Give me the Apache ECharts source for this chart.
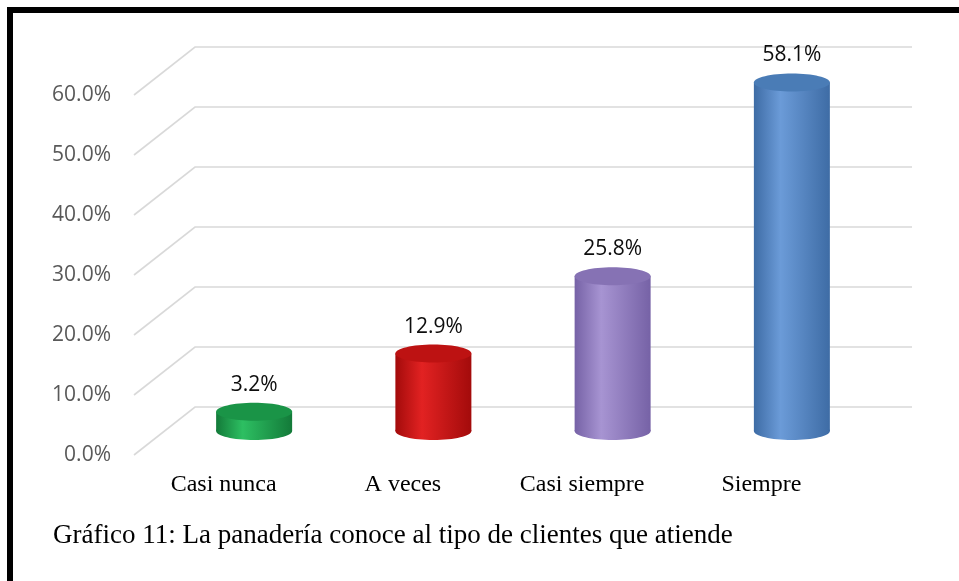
<!DOCTYPE html>
<html>
<head>
<meta charset="utf-8">
<script src="https://cdn.jsdelivr.net/npm/echarts@6/dist/echarts.min.js"></script>
<style>
html,body{margin:0;padding:0;background:#fff;}
#chart{width:959px;height:581px;}
</style>
</head>
<body>
<div id="chart"></div>
<script>
const categories = ['Casi nunca', 'A veces', 'Casi siempre', 'Siempre'];
const values = [3.2, 12.9, 25.8, 58.1];
const yTicks = [0, 10, 20, 30, 40, 50, 60];
const caption = 'Gráfico 11: La panadería conoce al tipo de clientes que atiende';

const palette = [
  {dark:'#137a39', light:'#2dbf62', top:'#1a9447'},
  {dark:'#a30b0b', light:'#e22222', top:'#bd1212'},
  {dark:'#7662a6', light:'#a794d2', top:'#8672b4'},
  {dark:'#3e6ca5', light:'#6b9bd8', top:'#4a7cb6'}
];
const DX = 61, DY = -48;

const chart = echarts.init(document.getElementById('chart'), null, {renderer:'canvas'});

function bodyGrad(p){
  return new echarts.graphic.LinearGradient(0,0,1,0,[
    {offset:0, color:p.dark},{offset:0.35, color:p.light},{offset:1, color:p.dark}
  ]);
}

const option = {
  animation:false,
  backgroundColor:'#ffffff',
  grid:{left:134, right:108, top:95, bottom:126},
  xAxis:{
    type:'category', data:categories,
    axisLine:{show:false}, axisTick:{show:false}, splitLine:{show:false},
    axisLabel:{margin:18, color:'#000', fontSize:24, fontFamily:'"Liberation Serif","Times New Roman",serif'}
  },
  yAxis:{
    type:'value', min:0, max:60, interval:10,
    axisLine:{show:false}, axisTick:{show:false}, splitLine:{show:false},
    axisLabel:{margin:23, color:'#595959', fontSize:21, fontFamily:'"Open Sans",sans-serif',
      formatter:v => v.toFixed(1) + '%'}
  },
  series:[
    {
      type:'custom', silent:true, z:1,
      data: yTicks.map(v => [0, v]),
      encode:{x:0, y:1},
      renderItem:function(params, api){
        const cs = params.coordSys;
        const y = api.coord([0, api.value(1)])[1];
        return {type:'polyline', shape:{points:[[cs.x, y],[cs.x+DX, y+DY],[cs.x+cs.width+DX, y+DY]]},
          style:{stroke:'#d9d9d9', lineWidth:1.6, fill:null}};
      }
    },
    {
      type:'custom', z:5,
      data: values.map((v,i) => [i, v]),
      encode:{x:0, y:1},
      renderItem:function(params, api){
        const i = api.value(0), v = api.value(1);
        const c = api.coord([i, v]);
        const b = api.coord([i, 0]);
        const cx = c[0] + DX/2, topY = c[1] + DY/2, baseY = b[1] + DY/2;
        const rx = 38, ry = 9;
        const p = palette[i];
        return {type:'group', children:[
          {type:'ellipse', shape:{cx:cx, cy:baseY, rx:rx, ry:ry}, style:{fill:bodyGrad(p)}},
          {type:'rect', shape:{x:cx-rx, y:topY, width:2*rx, height:baseY-topY}, style:{fill:bodyGrad(p)}},
          {type:'ellipse', shape:{cx:cx, cy:topY, rx:rx, ry:ry}, style:{fill:p.top}},
          {type:'text', style:{text:v.toFixed(1)+'%', x:cx, y:c[1]+DY-3, textAlign:'center', textVerticalAlign:'middle',
            fill:'#0d0d0d', font:'21px "Open Sans", sans-serif'}}
        ]};
      }
    }
  ],
  graphic:[
    {type:'rect', left:7, top:7, shape:{width:6, height:574}, style:{fill:'#000'}},
    {type:'rect', left:7, top:7, shape:{width:952, height:6}, style:{fill:'#000'}},
    {type:'text', left:53, top:522, style:{text:caption, fill:'#000', font:'27px "Liberation Serif","Times New Roman",serif'}}
  ]
};
chart.setOption(option);
</script>
</body>
</html>
